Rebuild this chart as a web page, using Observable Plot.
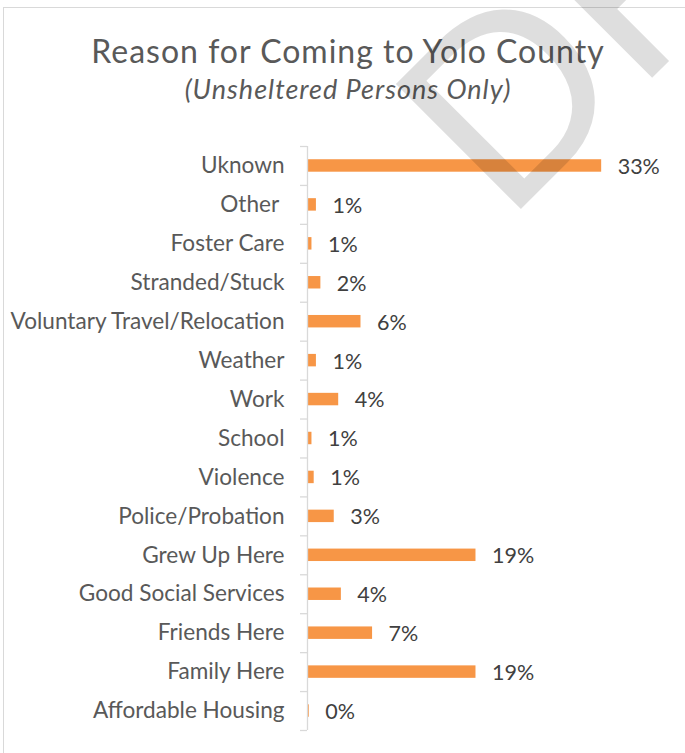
<!DOCTYPE html>
<html>
<head>
<meta charset="utf-8">
<script src="https://cdn.jsdelivr.net/npm/d3@7"></script>
<script src="https://cdn.jsdelivr.net/npm/@observablehq/plot@0.6"></script>
<style>
  html, body { margin: 0; padding: 0; background: #fff; overflow: hidden; width: 685px; height: 753px; }
  #frame { position: absolute; left: 3px; top: 7px; width: 720px; height: 800px; border: 1px solid #d9d9d9; box-sizing: border-box; }
  .title { position: absolute; left: 0; width: 696px; text-align: center; color: #595959; font-family: Lato, "Open Sans", sans-serif; line-height: 1.2; white-space: nowrap; }
  #t1 { top: 32px; font-size: 32px; letter-spacing: 1px; }
  #t2 { top: 73px; font-size: 27px; font-style: italic; letter-spacing: 1px; }
  #chart { position: absolute; left: 0; top: 0; }
  #wm { position: absolute; left: 0; top: 0; pointer-events: none; }
</style>
</head>
<body>
<div id="frame"></div>
<div id="chart"></div>
<div class="title" id="t1">Reason for Coming to Yolo County</div>
<div class="title" id="t2">(Unsheltered Persons Only)</div>
<svg id="wm" width="685" height="753">
  <text x="506" y="224" transform="rotate(-45 506 224)" font-family="'Liberation Sans', Arial, sans-serif" font-size="257" fill="#000" fill-opacity="0.13" stroke="#000" stroke-opacity="0.13" stroke-width="0" stroke-linejoin="round">DRAFT</text>
</svg>
<script>
const categories = [
  "Uknown", "Other ", "Foster Care", "Stranded/Stuck", "Voluntary Travel/Relocation",
  "Weather", "Work", "School", "Violence", "Police/Probation",
  "Grew Up Here", "Good Social Services", "Friends Here", "Family Here", "Affordable Housing"
];
const values = [33.0, 1.0, 0.5, 1.5, 6.0, 1.0, 3.5, 0.5, 0.75, 3.0, 18.9, 3.8, 7.3, 18.9, 0.2];
const labels = ["33%", "1%", "1%", "2%", "6%", "1%", "4%", "1%", "1%", "3%", "19%", "4%", "7%", "19%", "0%"];

const data = categories.map((c, i) => ({category: c, value: values[i], label: labels[i]}));

const W = 685, H = 753;
const mTop = 146, mBottom = 23, mLeft = 307, mRight = 66;
const step = (H - mTop - mBottom) / categories.length;
const font = "Lato, 'Open Sans', sans-serif";

const chart = Plot.plot({
  width: W,
  height: H,
  marginTop: mTop,
  marginBottom: mBottom,
  marginLeft: mLeft,
  marginRight: mRight,
  style: {fontFamily: font, background: "transparent", overflow: "visible"},
  x: {domain: [0, 35], axis: null},
  y: {domain: categories, paddingInner: 0.68, paddingOuter: 0.34, round: false, axis: null},
  marks: [
    Plot.barX(data, {y: "category", x: "value", fill: "#F79646"}),
    Plot.ruleX([0], {stroke: "#d9d9d9", strokeWidth: 1.3}),
    Plot.axisY({tickSize: 7, tickFormat: () => "", label: null, stroke: "#d9d9d9", strokeWidth: 1.3, dy: -step / 2}),
    Plot.axisY({ticks: categories.slice(-1), tickSize: 7, tickFormat: () => "", label: null, stroke: "#d9d9d9", strokeWidth: 1.3, dy: step / 2}),
    Plot.axisY({tickSize: 0, tickPadding: 23, fontSize: 22.6, fill: "#595959", label: null,
      tickFormat: d => d.replace(/ $/, "\u00a0")}),
    Plot.text(data, {y: "category", x: "value", text: "label", textAnchor: "start", dx: 16, dy: 1,
      fontSize: 21.5, fill: "#404040"})
  ]
});
document.getElementById("chart").appendChild(chart);
</script>
</body>
</html>
